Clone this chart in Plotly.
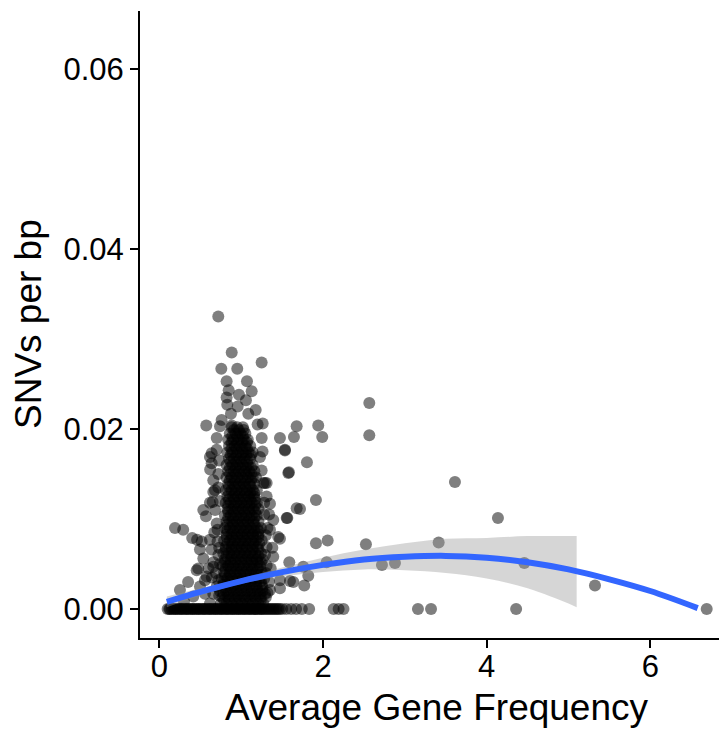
import plotly.graph_objects as go

# ---------------- data ----------------
# dense core of the cloud, row by row (y value, x values of that row)
core_row_y = [0.0006, 0.0013, 0.0020, 0.0027, 0.0034, 0.0041, 0.0048, 0.0055, 0.0062, 0.0069,
              0.0076, 0.0083, 0.0090, 0.0097, 0.0104, 0.0111, 0.0118, 0.0125, 0.0132, 0.0139,
              0.0146, 0.0153, 0.0160, 0.0167, 0.0174, 0.0181, 0.0188, 0.0195, 0.0202]
core_row_x = [
    [0.75, 0.82, 0.88, 0.95, 1.01, 1.08, 1.14, 1.21, 1.27],
    [0.77, 0.84, 0.91, 0.97, 1.04, 1.10, 1.17, 1.24, 1.30],
    [0.74, 0.81, 0.87, 0.94, 1.00, 1.07, 1.13, 1.20, 1.26],
    [0.78, 0.85, 0.92, 0.98, 1.05, 1.11, 1.18, 1.25],
    [0.76, 0.83, 0.89, 0.96, 1.02, 1.09, 1.15, 1.22, 1.28],
    [0.79, 0.86, 0.93, 0.99, 1.06, 1.12, 1.19, 1.25],
    [0.77, 0.84, 0.90, 0.97, 1.03, 1.10, 1.16, 1.23],
    [0.80, 0.87, 0.93, 1.00, 1.06, 1.13, 1.19, 1.26],
    [0.78, 0.85, 0.91, 0.98, 1.04, 1.11, 1.17, 1.24],
    [0.81, 0.88, 0.94, 1.01, 1.07, 1.14, 1.20],
    [0.79, 0.86, 0.92, 0.99, 1.05, 1.12, 1.18, 1.25],
    [0.82, 0.88, 0.95, 1.01, 1.08, 1.14, 1.21],
    [0.80, 0.86, 0.93, 0.99, 1.06, 1.12, 1.19, 1.24],
    [0.82, 0.89, 0.95, 1.02, 1.08, 1.15, 1.21],
    [0.80, 0.87, 0.93, 1.00, 1.06, 1.13, 1.19],
    [0.83, 0.89, 0.96, 1.02, 1.09, 1.15, 1.21],
    [0.81, 0.87, 0.94, 1.00, 1.07, 1.13, 1.19],
    [0.83, 0.90, 0.96, 1.03, 1.09, 1.16],
    [0.81, 0.88, 0.94, 1.01, 1.07, 1.14, 1.19],
    [0.84, 0.90, 0.97, 1.03, 1.10, 1.16],
    [0.82, 0.88, 0.95, 1.01, 1.08, 1.14, 1.18],
    [0.84, 0.91, 0.97, 1.04, 1.10, 1.16],
    [0.82, 0.89, 0.95, 1.02, 1.08, 1.14],
    [0.85, 0.91, 0.98, 1.04, 1.11],
    [0.83, 0.89, 0.96, 1.02, 1.09, 1.14],
    [0.85, 0.92, 0.98, 1.05, 1.11],
    [0.84, 0.90, 0.97, 1.03, 1.08],
    [0.86, 0.93, 0.99, 1.05],
    [0.88, 0.95, 1.02],
]
# second, interleaved set of rows inside the core
core2_row_y = [0.0010, 0.0017, 0.0024, 0.0031, 0.0038, 0.0045, 0.0052, 0.0059, 0.0066, 0.0073,
               0.0080, 0.0087, 0.0094, 0.0101, 0.0108, 0.0115, 0.0122, 0.0129, 0.0136, 0.0143,
               0.0150, 0.0157, 0.0164, 0.0171, 0.0178, 0.0185, 0.0192, 0.0199]
core2_row_x = [
    [0.79, 0.85, 0.92, 0.98, 1.05, 1.11, 1.18, 1.24],
    [0.78, 0.84, 0.91, 0.97, 1.04, 1.11, 1.17, 1.23, 1.29],
    [0.80, 0.87, 0.93, 1.00, 1.06, 1.13, 1.19, 1.26],
    [0.79, 0.86, 0.92, 0.99, 1.05, 1.12, 1.18, 1.24],
    [0.80, 0.86, 0.93, 0.99, 1.06, 1.12, 1.19, 1.24],
    [0.81, 0.87, 0.94, 1.00, 1.07, 1.13, 1.20],
    [0.80, 0.87, 0.93, 1.00, 1.07, 1.13, 1.20, 1.24],
    [0.82, 0.88, 0.95, 1.01, 1.08, 1.14, 1.21],
    [0.81, 0.88, 0.94, 1.01, 1.07, 1.14, 1.21],
    [0.83, 0.89, 0.96, 1.02, 1.09, 1.15, 1.22],
    [0.82, 0.89, 0.95, 1.02, 1.08, 1.15, 1.21],
    [0.83, 0.90, 0.96, 1.03, 1.09, 1.16, 1.21],
    [0.83, 0.90, 0.96, 1.03, 1.09, 1.16],
    [0.84, 0.90, 0.97, 1.03, 1.10, 1.16],
    [0.84, 0.91, 0.97, 1.04, 1.10, 1.17],
    [0.84, 0.91, 0.97, 1.04, 1.10, 1.17],
    [0.85, 0.91, 0.98, 1.04, 1.11, 1.17],
    [0.85, 0.92, 0.98, 1.05, 1.11, 1.16],
    [0.85, 0.92, 0.98, 1.05, 1.11],
    [0.86, 0.92, 0.99, 1.05, 1.12],
    [0.86, 0.93, 0.99, 1.06, 1.12],
    [0.86, 0.93, 0.99, 1.06, 1.12],
    [0.87, 0.94, 1.00, 1.07],
    [0.87, 0.94, 1.00, 1.06, 1.12],
    [0.88, 0.94, 1.01, 1.07],
    [0.88, 0.95, 1.01, 1.07],
    [0.89, 0.95, 1.02],
    [0.91, 0.97, 1.03],
]

# genes with zero SNVs
zero_x = [0.10, 0.13, 0.17, 0.20, 0.24, 0.27, 0.31, 0.34, 0.38, 0.41, 0.45, 0.48, 0.52, 0.55,
          0.59, 0.62, 0.66, 0.69, 0.73, 0.76, 0.80, 0.83, 0.87, 0.90, 0.94, 0.97, 1.01, 1.04,
          1.08, 1.11, 1.15, 1.18, 1.22, 1.25, 1.29, 1.33, 1.37, 1.41, 1.45, 1.50, 1.55, 1.61,
          1.67, 1.74, 1.83, 2.13, 2.19, 2.25, 3.16, 3.32, 4.36, 6.69]
zero_x2 = [0.15, 0.22, 0.29, 0.36, 0.43, 0.50, 0.57, 0.64, 0.71, 0.78, 0.85, 0.92, 0.99,
           1.06, 1.13, 1.20, 1.27, 1.35, 1.43]
zero_x3 = [0.12, 0.19, 0.26, 0.33, 0.40, 0.47, 0.54, 0.61, 0.68, 0.75, 0.82, 0.89, 0.96,
           1.03, 1.10, 1.17, 1.24, 1.31, 1.39, 1.47]

# scattered genes around the cloud
spread_x = [0.719, 0.883, 1.249, 0.756, 0.951, 0.821, 1.070, 1.127, 0.846, 0.972, 0.821, 1.057,
            0.829, 1.176, 0.956, 0.874, 1.086, 0.572, 0.740, 1.262, 0.883,
            1.473, 1.644, 1.677, 1.534, 1.583, 1.803, 1.941, 1.990, 1.913, 1.718, 1.563, 2.056,
            1.913, 2.565, 2.565, 2.524, 3.413, 3.612, 4.138, 2.720, 2.879, 4.460, 5.324, 2.044,
            1.587, 1.595, 1.770, 1.819, 1.473, 1.473, 1.758,
            0.190, 0.290, 0.400, 0.460, 0.638, 0.638, 0.658, 0.650, 0.617, 0.568, 0.617, 0.699,
            0.679, 0.658, 0.536, 0.495, 0.617, 0.638, 0.536, 0.455, 0.577, 0.495, 0.250, 0.658,
            0.617, 0.413, 0.474, 0.556, 0.516, 0.658, 0.556,
            1.310, 1.351, 1.452, 1.534, 1.575, 1.555, 1.677, 1.310, 1.391, 1.473, 1.351, 1.636,
            1.249, 1.229, 1.310, 1.290, 1.391, 1.351,
            0.700, 0.720, 0.690, 0.710, 0.700, 0.680, 0.720, 1.300, 1.320, 1.280, 1.340, 0.300,
            0.350, 0.600]
spread_y = [0.0325, 0.0285, 0.0274, 0.0267, 0.0267, 0.0253, 0.0253, 0.0242, 0.0243, 0.0238, 0.0235, 0.0232,
            0.0227, 0.0221, 0.0225, 0.0217, 0.0217, 0.0204, 0.0203, 0.0206, 0.0204,
            0.0190, 0.0191, 0.0203, 0.0176, 0.0152, 0.0163, 0.0204, 0.0191, 0.0121, 0.0111, 0.0101, 0.0076,
            0.0073, 0.0229, 0.0193, 0.0072, 0.0074, 0.0141, 0.0101, 0.0049, 0.0051, 0.0051, 0.0026, 0.0052,
            0.0052, 0.0031, 0.0026, 0.0037, 0.0023, 0.0078, 0.0047,
            0.0090, 0.0088, 0.0079, 0.0077, 0.0173, 0.0162, 0.0130, 0.0119, 0.0118, 0.0103, 0.0169, 0.0177,
            0.0132, 0.0143, 0.0110, 0.0066, 0.0077, 0.0066, 0.0056, 0.0043, 0.0036, 0.0025, 0.0021, 0.0017,
            0.0006, 0.0014, 0.0045, 0.0032, 0.0075, 0.0047, 0.0017,
            0.0125, 0.0117, 0.0080, 0.0177, 0.0151, 0.0101, 0.0112, 0.0069, 0.0058, 0.0032, 0.0021, 0.0030,
            0.0154, 0.0169, 0.0140, 0.0140, 0.0099, 0.0088,
            0.0095, 0.0060, 0.0040, 0.0075, 0.0025, 0.0110, 0.0150, 0.0040, 0.0090, 0.0105, 0.0030, 0.0008,
            0.0030, 0.0045]

# genes along the soft edges of the core
edge_x = [0.73, 0.72, 0.74, 0.71, 0.73, 0.74, 0.72, 0.73, 0.66, 0.64, 0.67, 0.70, 0.76, 0.62,
          1.26, 1.27, 1.28, 1.30, 1.29, 1.31, 1.32, 1.36, 1.38, 1.25, 1.20, 1.34]
edge_y = [0.0165, 0.0135, 0.0120, 0.0088, 0.0068, 0.0050, 0.0032, 0.0015, 0.0052, 0.0035, 0.0085,
          0.0190, 0.0210, 0.0155,
          0.0175, 0.0140, 0.0118, 0.0082, 0.0060, 0.0048, 0.0018, 0.0045, 0.0068, 0.0190, 0.0205,
          0.0105]

# smoothed trend and its confidence band
fit_x = [0.09, 0.5, 1.0, 1.5, 2.0, 2.5, 3.0, 3.5, 4.0, 4.5, 5.0, 5.5, 6.0, 6.58]
fit_y = [0.0008, 0.0019, 0.0031, 0.0041, 0.0049, 0.0055, 0.0058, 0.0059, 0.0057, 0.0052, 0.0044,
         0.0033, 0.0020, 0.0001]
band_x = [0.09, 0.5, 1.0, 1.5, 2.0, 2.5, 3.0, 3.5, 4.0, 4.5, 5.0, 5.1]
band_hi = [0.0014, 0.0023, 0.0034, 0.0046, 0.0057, 0.0066, 0.0073, 0.0078, 0.0079, 0.0081, 0.0081, 0.0081]
band_lo = [0.0002, 0.0015, 0.0028, 0.0036, 0.0041, 0.0044, 0.0043, 0.0040, 0.0034, 0.0023, 0.0006, 0.0002]

x_ticks = [0, 2, 4, 6]
y_ticks = [0.00, 0.02, 0.04, 0.06]
y_tick_labels = ["0.00", "0.02", "0.04", "0.06"]
x_title = "Average Gene Frequency"
y_title = "SNVs per bp"

# ---------------- build ----------------
pts_x, pts_y = [], []
for yv, xs in list(zip(core_row_y, core_row_x)) + list(zip(core2_row_y, core2_row_x)):
    pts_x += xs
    pts_y += [yv] * len(xs)
zeros_all = zero_x + zero_x2 + zero_x3
pts_x += zeros_all + spread_x + edge_x
pts_y += [0.0] * len(zeros_all) + spread_y + edge_y

# the page body has an 8px margin: the figure is shrunk by it so the plot lands where the reference has it
OFF = 8
W, H = 727 - OFF, 738 - OFF
L, R, T, B = 132, 0, 3, 100
PW, PH = W - L - R, H - T - B

fig = go.Figure()
fig.add_trace(go.Scatter(x=pts_x, y=pts_y, mode="markers",
                         marker=dict(size=12, color="rgba(0,0,0,0.5)", line=dict(width=0)),
                         hoverinfo="skip", showlegend=False))
fig.add_trace(go.Scatter(x=band_x, y=band_lo, mode="lines", line=dict(width=0, shape="spline"),
                         showlegend=False, hoverinfo="skip"))
fig.add_trace(go.Scatter(x=band_x, y=band_hi, mode="lines", line=dict(width=0, shape="spline"),
                         fill="tonexty", fillcolor="rgba(153,153,153,0.4)",
                         showlegend=False, hoverinfo="skip"))
fig.add_trace(go.Scatter(x=fit_x, y=fit_y, mode="lines",
                         line=dict(color="#3366FF", width=6, shape="spline"),
                         showlegend=False, hoverinfo="skip"))

x0 = -0.238
x1 = x0 + PW / 81.8
y_bottom = (609 - (OFF + T + PH)) / 9000.0
y_top = (609 - (OFF + T)) / 9000.0

FONT = "Liberation Sans, Arial, sans-serif"
axis_common = dict(showgrid=False, zeroline=False, showline=True, linecolor="black", linewidth=2,
                   ticks="outside", ticklen=8, tickwidth=2, tickcolor="black",
                   tickfont=dict(family=FONT, size=31, color="black"))
fig.update_xaxes(range=[x0, x1], tickvals=x_ticks, ticktext=[str(v) for v in x_ticks],
                 ticklabelstandoff=-8, **axis_common)
fig.update_yaxes(range=[y_bottom, y_top], tickvals=y_ticks, ticktext=y_tick_labels,
                 ticklabelstandoff=0, **axis_common)


def px_to_paper_x(px):
    return (px - OFF - L) / PW


def px_to_paper_y(py):
    return (T + PH - (py - OFF)) / PH


fig.add_annotation(text=x_title, xref="paper", yref="paper", x=px_to_paper_x(437),
                   y=px_to_paper_y(707), xanchor="center", yanchor="middle", showarrow=False,
                   font=dict(family=FONT, size=37, color="black"))
fig.add_annotation(text=y_title, xref="paper", yref="paper", x=px_to_paper_x(28),
                   y=px_to_paper_y(324), xanchor="center", yanchor="middle", showarrow=False,
                   textangle=-90, font=dict(family=FONT, size=37, color="black"))

fig.update_layout(width=W, height=H, margin=dict(l=L, r=R, t=T, b=B, autoexpand=False),
                  plot_bgcolor="white", paper_bgcolor="white", showlegend=False)

fig.write_html("out.html")
